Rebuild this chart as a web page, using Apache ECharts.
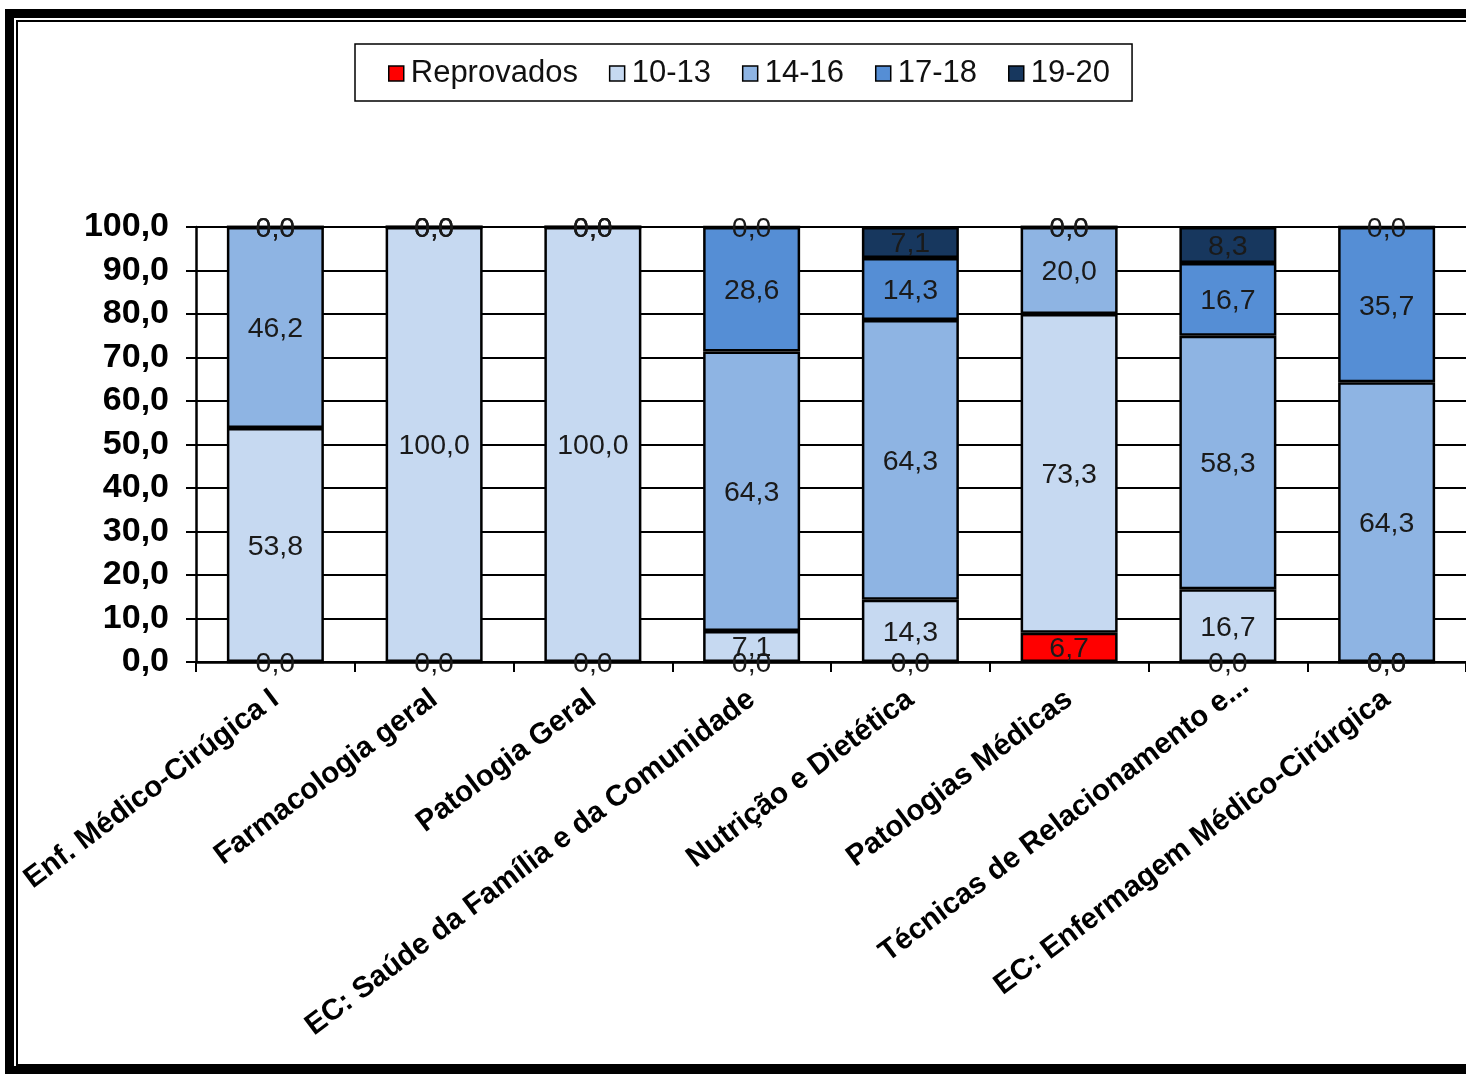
<!DOCTYPE html>
<html>
<head>
<meta charset="utf-8">
<title>Distribuição das classificações por unidade curricular</title>
<script src="https://cdn.jsdelivr.net/npm/echarts@6/dist/echarts.min.js"></script>
<style>
  html, body { margin: 0; padding: 0; background: #fff; }
  #chart { width: 1466px; height: 1074px; }
</style>
</head>
<body>
<div id="chart"></div>
<script>
// Unidades curriculares (eixo das categorias)
const categories = [
  'Enf. Médico-Cirúgica I',
  'Farmacologia geral',
  'Patologia Geral',
  'EC: Saúde da Família e da Comunidade',
  'Nutrição e Dietética',
  'Patologias Médicas',
  'Técnicas de Relacionamento e...',
  'EC: Enfermagem Médico-Cirúrgica'
];

// Percentagem de alunos por escalão de classificação
const reprovados = [0.0, 0.0, 0.0, 0.0, 0.0, 6.7, 0.0, 0.0];
const nota10a13  = [53.8, 100.0, 100.0, 7.1, 14.3, 73.3, 16.7, 0.0];
const nota14a16  = [46.2, 0.0, 0.0, 64.3, 64.3, 20.0, 58.3, 64.3];
const nota17a18  = [0.0, 0.0, 0.0, 28.6, 14.3, 0.0, 16.7, 35.7];
const nota19a20  = [0.0, 0.0, 0.0, 0.0, 7.1, 0.0, 8.3, 0.0];

const seriesNames = ['Reprovados', '10-13', '14-16', '17-18', '19-20'];
const seriesData = [reprovados, nota10a13, nota14a16, nota17a18, nota19a20];
const seriesColors = ['#FF0000', '#C6D9F1', '#8EB4E3', '#558ED5', '#17375E'];

// Eixo dos valores: 0,0 a 100,0 de 10 em 10
const yMin = 0, yMax = 100, yStep = 10;

const FONT = 'Liberation Sans, Arial, sans-serif';
const fmt = v => Number(v).toFixed(1).replace('.', ',');

const chart = echarts.init(document.getElementById('chart'), null, { renderer: 'canvas' });

const series = seriesNames.map((name, i) => ({
  name: name,
  type: 'bar',
  stack: 'total',
  barWidth: 97,
  data: seriesData[i],
  itemStyle: {
    color: seriesColors[i],
    borderColor: '#000',
    borderWidth: 2.5
  },
  label: {
    show: true,
    position: 'inside',
    offset: [0, 2],
    formatter: p => fmt(p.value),
    fontFamily: FONT,
    fontSize: 28.5,
    color: '#1a1a1a'
  },
  emphasis: { disabled: true },
  animation: false
}));

// Rótulos truncados: as reticências ultrapassam o ponto de alinhamento
const xAxisData = categories.map(c => c.endsWith('...')
  ? { value: c, textStyle: { padding: [0, -22, 0, 0] } }
  : c);

chart.setOption({
  backgroundColor: '#fff',
  animation: false,
  graphic: [
    {
      type: 'rect',
      shape: { x: 9.5, y: 13.5, width: 1600, height: 1057 },
      style: { fill: 'none', stroke: '#000', lineWidth: 9 },
      silent: true, z: 100
    },
    {
      type: 'rect',
      shape: { x: 17, y: 21, width: 1600, height: 1044 },
      style: { fill: 'none', stroke: '#000', lineWidth: 2 },
      silent: true, z: 100
    }
  ],
  legend: {
    left: 355,
    top: 44,
    padding: [14, 22, 12, 33],
    borderColor: '#000',
    borderWidth: 1.5,
    itemWidth: 15,
    itemHeight: 15,
    itemGap: 31,
    icon: 'rect',
    selectedMode: false,
    itemStyle: { borderWidth: 1.5, borderColor: '#000' },
    textStyle: {
      fontFamily: FONT,
      fontSize: 31,
      color: '#111',
      padding: [0, 0, 0, 2]
    },
    data: seriesNames
  },
  grid: {
    left: 196,
    top: 227,
    width: 1272,
    height: 435,
    containLabel: false
  },
  xAxis: {
    type: 'category',
    data: xAxisData,
    axisLine: { show: true, lineStyle: { color: '#000', width: 2.5 } },
    axisTick: { show: true, length: 10, lineStyle: { color: '#000', width: 2 } },
    axisLabel: {
      interval: 0,
      rotate: 37,
      margin: 34,
      fontFamily: FONT,
      fontWeight: 'bold',
      fontSize: 29.5,
      color: '#000'
    },
    splitLine: { show: false }
  },
  yAxis: {
    type: 'value',
    min: yMin,
    max: yMax,
    interval: yStep,
    axisLine: { show: true, lineStyle: { color: '#000', width: 2.5 } },
    axisTick: { show: true, length: 10, lineStyle: { color: '#000', width: 2 } },
    axisLabel: {
      margin: 27,
      padding: [4, 0, 0, 0],
      formatter: v => fmt(v),
      fontFamily: FONT,
      fontWeight: 'bold',
      fontSize: 34,
      color: '#000'
    },
    splitLine: { show: true, lineStyle: { color: '#000', width: 2 } }
  },
  series: series
});
</script>
</body>
</html>
